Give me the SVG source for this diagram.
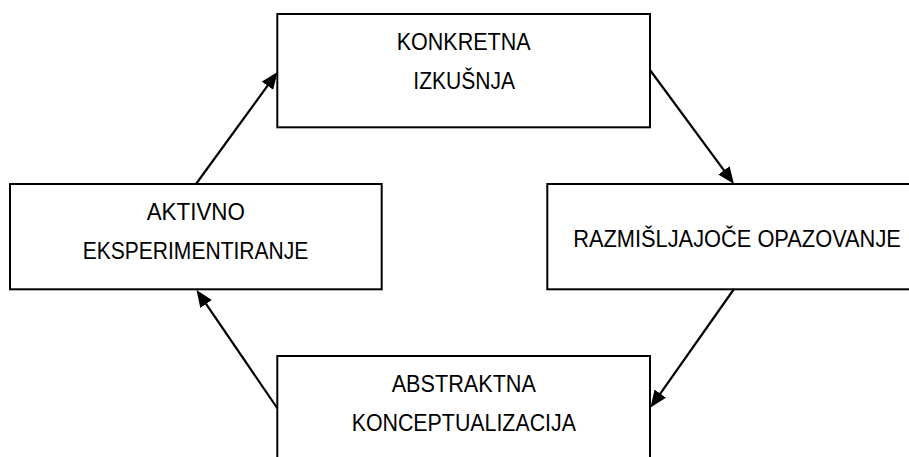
<svg xmlns="http://www.w3.org/2000/svg" width="909" height="457" viewBox="0 0 909 457">
<style>
.box{fill:#fff;stroke:#000;stroke-width:2}
.lbl{font-family:"Liberation Sans",Arial,sans-serif;font-size:23.5px;fill:#000;text-anchor:middle}
.con{stroke:#000;stroke-width:2.2;fill:none;marker-end:url(#ah)}
</style>
<defs>
<marker id="ah" markerUnits="userSpaceOnUse" markerWidth="18" markerHeight="15" refX="11" refY="7" orient="auto">
<path d="M0,0 L17,7 L0,14 z" fill="#000"/>
</marker>
</defs>
<rect width="909" height="457" fill="#fff"/>
<g id="n1">
<rect class="box" x="277.3" y="14" width="372.7" height="113.3"/>
<text class="lbl" x="463.7" y="50" textLength="134" lengthAdjust="spacingAndGlyphs">KONKRETNA</text>
<text class="lbl" x="464.2" y="89.3" textLength="101.7" lengthAdjust="spacingAndGlyphs">IZKUŠNJA</text>
</g>
<g id="n2">
<rect class="box" x="547.3" y="184" width="380" height="105.3"/>
<text class="lbl" x="737" y="246.7" textLength="327.7" lengthAdjust="spacingAndGlyphs">RAZMIŠLJAJOČE OPAZOVANJE</text>
</g>
<g id="n3">
<rect class="box" x="277.3" y="356" width="372.7" height="120"/>
<text class="lbl" x="463.8" y="392" textLength="144.3" lengthAdjust="spacingAndGlyphs">ABSTRAKTNA</text>
<text class="lbl" x="463.8" y="431" textLength="224.3" lengthAdjust="spacingAndGlyphs">KONCEPTUALIZACIJA</text>
</g>
<g id="n4">
<rect class="box" x="10" y="184" width="371.7" height="105.3"/>
<text class="lbl" x="195.8" y="220" textLength="98.3" lengthAdjust="spacingAndGlyphs">AKTIVNO</text>
<text class="lbl" x="195.5" y="259.3" textLength="225.7" lengthAdjust="spacingAndGlyphs">EKSPERIMENTIRANJE</text>
</g>
<g id="connectors">
<path class="con" d="M196,184 L273.97,76.85"/>
<path class="con" d="M650,70 L730.44,179.17"/>
<path class="con" d="M734,289 L653.96,402.6"/>
<path class="con" d="M277.5,408.5 L199.89,294.95"/>
</g>
</svg>
